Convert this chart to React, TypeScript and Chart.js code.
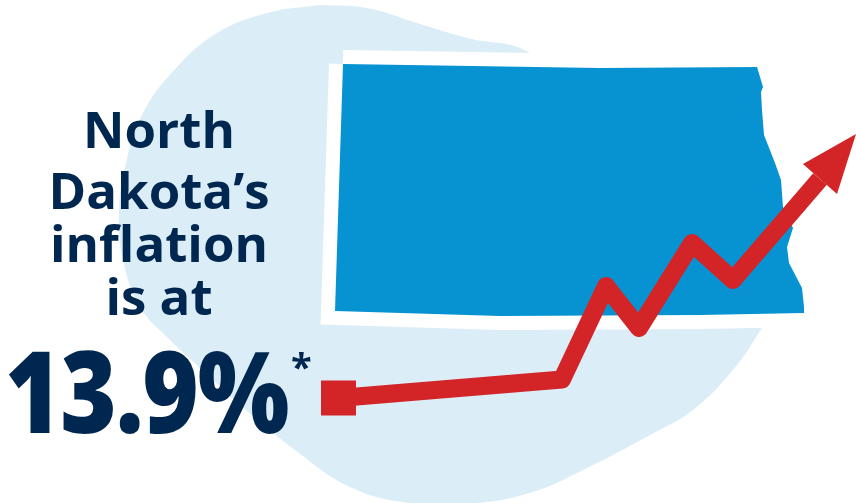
import React, { useEffect, useRef } from "react";
import { Chart, registerables } from "chart.js";

Chart.register(...registerables);

const blobX = [320, 367, 417, 467, 530, 600, 700, 775, 762, 733, 693, 650, 583, 533, 477, 410, 350, 295, 240, 200, 170, 140, 123, 119, 125, 143, 177, 217, 267, 320];
const blobY = [5, 8, 23, 38, 53, 120, 250, 305, 328, 370, 410, 435, 470, 492, 503, 503, 487, 450, 405, 368, 340, 307, 260, 213, 167, 113, 67, 33, 13, 5];

const stateX = [343, 600, 757, 763, 761, 762, 764, 775, 781, 783, 793, 787, 789, 802, 804, 804, 700, 500, 335, 343];
const stateY = [64, 68, 67, 87, 92, 110, 135, 163, 180, 207, 228, 247, 263, 288, 307, 313, 315, 316, 311, 64];

const trendX = [338.5, 562, 606, 639, 692, 733, 820];
const trendY = [398, 379.5, 286, 328, 243, 280, 179];

const headX = [856, 803, 837, 856];
const headY = [134, 164, 194, 134];

const zip = (xs: number[], ys: number[]) => xs.map((x, i) => ({ x, y: ys[i] }));

const headline = [
  { text: "North", y: 103 },
  { text: "Dakota\u2019s", y: 164 },
  { text: "inflation", y: 217 },
  { text: "is at", y: 270 },
];
const bigValue = "13.9%";
const footnoteMark = "*";

const NAVY = "#00274f";
const FONT = '"Open Sans", sans-serif';

export default function App() {
  const ref = useRef<HTMLCanvasElement | null>(null);
  useEffect(() => {
    const chart = new Chart(ref.current as HTMLCanvasElement, {
      type: "line",
      data: {
        datasets: [
          {
            data: zip(headX, headY),
            fill: "shape",
            backgroundColor: "#d32527",
            borderWidth: 0,
            pointRadius: 0,
            tension: 0,
          },
          {
            data: zip(trendX, trendY),
            fill: false,
            borderColor: "#d32527",
            borderWidth: 18,
            borderJoinStyle: "round",
            tension: 0,
            pointStyle: "rect",
            pointBorderWidth: 0,
            pointBackgroundColor: "#d32527",
            pointRadius: (c: any) => (c.dataIndex === 0 ? 24.75 : 0),
          },
          {
            data: zip(stateX, stateY),
            fill: "shape",
            backgroundColor: "#0793d2",
            borderWidth: 0,
            pointRadius: 0,
            tension: 0,
          },
          {
            data: zip(stateX, stateY),
            fill: "shape",
            backgroundColor: "#ffffff",
            borderColor: "#ffffff",
            borderWidth: 28,
            borderJoinStyle: "miter",
            pointRadius: 0,
            tension: 0,
          },
          {
            data: zip(blobX, blobY),
            fill: "shape",
            backgroundColor: "#dbeef8",
            borderWidth: 0,
            pointRadius: 0,
            tension: 0.4,
          },
        ] as any,
      },
      options: {
        responsive: false,
        animation: false,
        events: [],
        layout: { padding: 0, autoPadding: false },
        clip: false,
        scales: {
          x: { type: "linear", min: 0, max: 856, display: false },
          y: { type: "linear", min: 0, max: 503, reverse: true, display: false },
        },
        plugins: { legend: { display: false }, tooltip: { enabled: false }, title: { display: false } },
      } as any,
    });
    return () => chart.destroy();
  }, []);

  const base: React.CSSProperties = {
    position: "absolute",
    whiteSpace: "nowrap",
    fontFamily: FONT,
    color: NAVY,
    lineHeight: 1,
  };

  return (
    <div style={{ position: "absolute", left: 0, top: 0, width: 856, height: 503, background: "#fff", overflow: "hidden" }}>
      <canvas ref={ref} width={856} height={503} style={{ position: "absolute", left: 0, top: 0, width: 856, height: 503 }} />
      {headline.map((l) => (
        <div key={l.text} style={{ ...base, left: 159, top: l.y, transform: "translateX(-50%)", fontSize: 51, fontWeight: 700 }}>
          {l.text}
        </div>
      ))}
      <div style={{ ...base, left: 5, top: 333, fontSize: 113, fontWeight: 800, letterSpacing: -1.5, transformOrigin: "0 0", transform: "scaleX(0.855)" }}>
        {bigValue}
      </div>
      <div style={{ ...base, left: 291, top: 347, fontSize: 38, fontWeight: 700 }}>{footnoteMark}</div>
    </div>
  );
}
